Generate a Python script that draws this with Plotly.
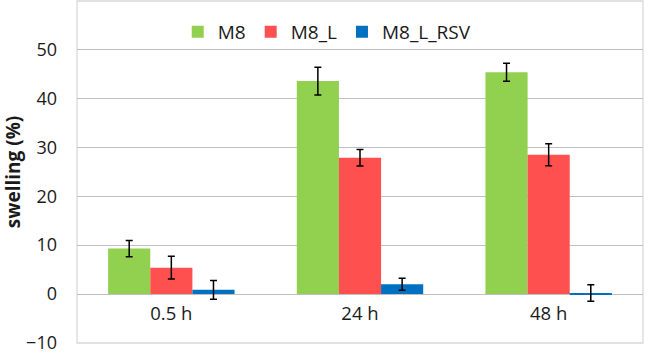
import plotly.graph_objects as go

categories = ["0.5 h", "24 h", "48 h"]
series_names = ["M8", "M8_L", "M8_L_RSV"]
m8 = [9.3, 43.6, 45.4]
m8_err = [1.65, 2.85, 1.85]
m8_l = [5.4, 27.9, 28.5]
m8_l_err = [2.35, 1.7, 2.25]
m8_l_rsv = [0.85, 2.0, 0.2]
m8_l_rsv_err = [1.9, 1.25, 1.7]
colors = ["#92D050", "#FF5050", "#0070C0"]
y_ticks = [-10, 0, 10, 20, 30, 40, 50]

font = "Open Sans, Liberation Sans, sans-serif"
y_min, y_max = -10.03, 60
fig = go.Figure()
for name, vals, errs, col in zip(series_names, [m8, m8_l, m8_l_rsv],
                                  [m8_err, m8_l_err, m8_l_rsv_err], colors):
    fig.add_trace(go.Bar(
        name=name, x=categories, y=vals, marker=dict(color=col, line=dict(width=0)),
        error_y=dict(type="data", array=errs, visible=True, color="black",
                     thickness=1.5, width=3.5),
    ))

fig.update_layout(
    width=649, height=355,
    margin=dict(l=77, r=6, t=1, b=12),
    paper_bgcolor="white", plot_bgcolor="white",
    barmode="group", bargap=0.33, bargroupgap=0,
    font=dict(family=font, size=18, color="#1a1a1a"),
    showlegend=True,
    legend=dict(orientation="h", x=0.178, xanchor="left", y=0.91, yanchor="middle",
                font=dict(size=19, color="#1a1a1a"), bgcolor="rgba(0,0,0,0)",
                itemwidth=30, traceorder="normal"),
    xaxis=dict(anchor="free", position=(0 - y_min) / (y_max - y_min), showgrid=False,
               showline=False, ticks="", ticklabelstandoff=6, automargin=False,
               tickfont=dict(size=18.5)),
    yaxis=dict(range=[y_min, y_max], tickvals=y_ticks, showgrid=True,
               gridcolor="#BFBFBF", gridwidth=1.3, zeroline=True,
               zerolinecolor="#BFBFBF", zerolinewidth=1.3, automargin=False,
               ticks="", ticklabelstandoff=19, tickfont=dict(size=18),
               ticklabeloverflow="allow",
               title=dict(text="<b>swelling (%)</b>", font=dict(size=19), standoff=8)),
    shapes=[dict(type="rect", xref="paper", yref="paper", x0=0, x1=1, y0=0, y1=1,
                 line=dict(color="#D9D9D9", width=1.3), layer="below")],
)

fig.write_html("out.html", config={"displayModeBar": False},
               post_script="document.body.style.margin='0';document.body.style.overflow='hidden';")
